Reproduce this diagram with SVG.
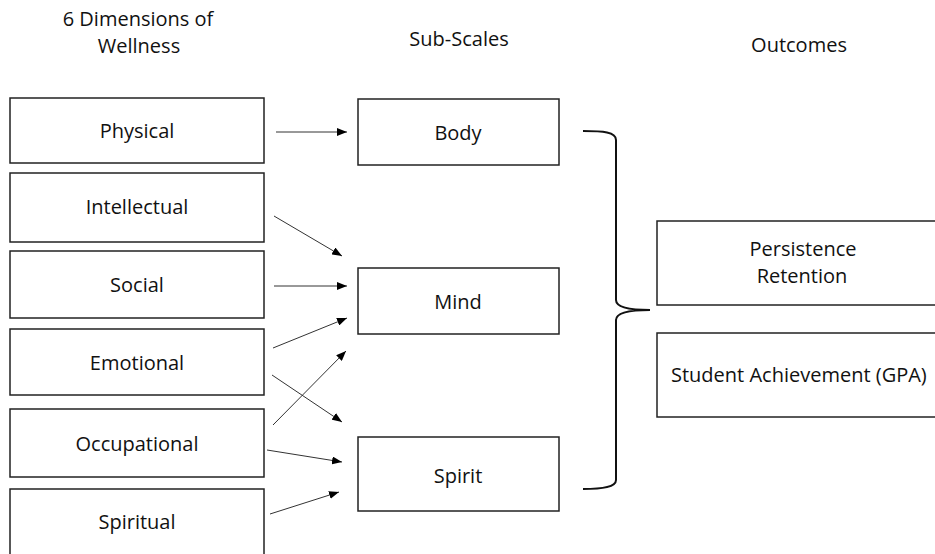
<svg xmlns="http://www.w3.org/2000/svg" width="935" height="554" viewBox="0 0 935 554">
<defs>
<style>
.box{fill:#fff;stroke:#222;stroke-width:1.5}
.t{font-family:"Open Sans","Liberation Sans",sans-serif;font-size:20px;fill:#111;text-anchor:middle}
.c{stroke:#333;stroke-width:1;fill:none;marker-end:url(#ah)}
.br{stroke:#111;stroke-width:2;fill:none}
</style>
<marker id="ah" markerUnits="userSpaceOnUse" markerWidth="10" markerHeight="8" refX="10" refY="4" orient="auto">
<path d="M0,0 L10,4 L0,8 Z" fill="#000"/>
</marker>
</defs>
<rect width="935" height="554" fill="#fff"/>
<g id="headers">
<text class="t" x="138" y="26">6 Dimensions of</text>
<text class="t" x="139" y="53">Wellness</text>
<text class="t" x="459" y="46">Sub-Scales</text>
<text class="t" x="799" y="52">Outcomes</text>
</g>
<g id="physical"><rect class="box" x="10" y="98" width="254" height="65"/><text class="t" x="137" y="138">Physical</text></g>
<g id="intellectual"><rect class="box" x="10" y="173" width="254" height="69"/><text class="t" x="137" y="214">Intellectual</text></g>
<g id="social"><rect class="box" x="10" y="251" width="254" height="67"/><text class="t" x="137" y="292">Social</text></g>
<g id="emotional"><rect class="box" x="10" y="329" width="254" height="66"/><text class="t" x="137" y="370">Emotional</text></g>
<g id="occupational"><rect class="box" x="10" y="409" width="254" height="68"/><text class="t" x="137" y="451">Occupational</text></g>
<g id="spiritual"><rect class="box" x="10" y="489" width="254" height="80"/><text class="t" x="137" y="529">Spiritual</text></g>
<g id="body"><rect class="box" x="358" y="99" width="201" height="66"/><text class="t" x="458" y="140">Body</text></g>
<g id="mind"><rect class="box" x="358" y="268" width="201" height="66"/><text class="t" x="458" y="309">Mind</text></g>
<g id="spirit"><rect class="box" x="358" y="437" width="201" height="74"/><text class="t" x="458" y="483">Spirit</text></g>
<g id="persistence"><rect class="box" x="657" y="221" width="300" height="84"/><text class="t" x="803" y="256">Persistence</text><text class="t" x="802" y="283">Retention</text></g>
<g id="achievement"><rect class="box" x="657" y="333" width="300" height="84"/><text class="t" x="671" y="382" style="text-anchor:start">Student Achievement (GPA)</text></g>
<g id="connectors">
<line class="c" x1="276" y1="132" x2="347" y2="132"/>
<line class="c" x1="274" y1="216" x2="342" y2="256"/>
<line class="c" x1="274" y1="286" x2="347" y2="286"/>
<line class="c" x1="273" y1="348" x2="347" y2="318"/>
<line class="c" x1="273" y1="425" x2="346" y2="351"/>
<line class="c" x1="272" y1="375" x2="342" y2="422"/>
<line class="c" x1="267" y1="450" x2="342" y2="462"/>
<line class="c" x1="270" y1="514" x2="339" y2="492"/>
<path class="br" d="M583,131 C603,131 616,132 616,140 L616,300 C616,307 628,310 650,310 C628,310 616,313 616,320 L616,480 C616,487 603,489 583,489"/>
</g>
</svg>
